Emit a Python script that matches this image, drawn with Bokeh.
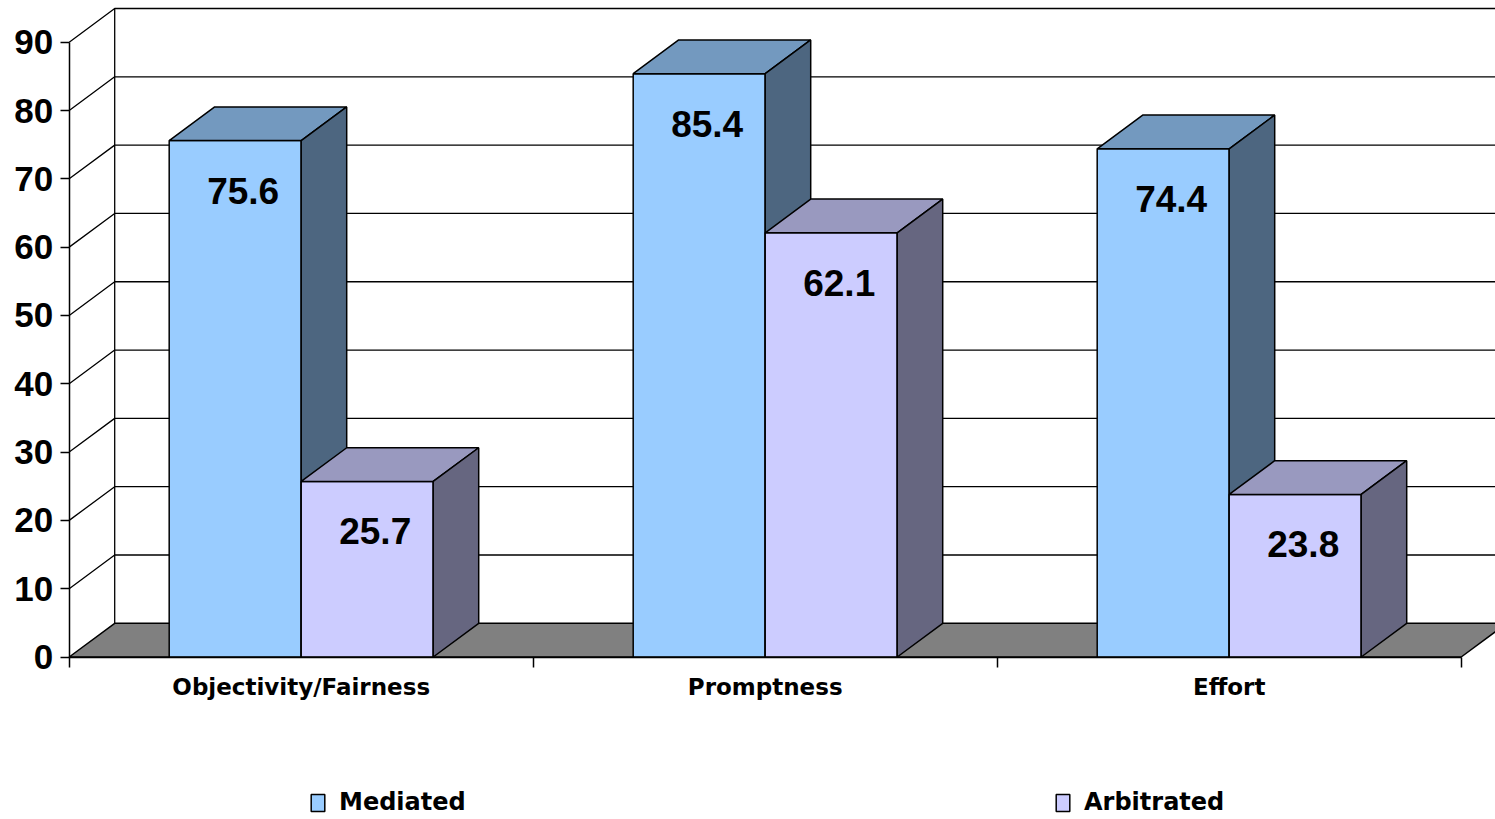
from bokeh.plotting import figure
from bokeh.models import LinearAxis, FixedTicker, Range1d, Legend, LegendItem, ColumnDataSource
from bokeh.core.properties import value
from bokeh.embed import file_html
from bokeh.resources import INLINE

# ---- data -------------------------------------------------------------
categories = ["Objectivity/Fairness", "Promptness", "Effort"]
series_names = ["Mediated", "Arbitrated"]
mediated = [75.6, 85.4, 74.4]
arbitrated = [25.7, 62.1, 23.8]
y_ticks = [0, 10, 20, 30, 40, 50, 60, 70, 80, 90]

# ---- layout -------------------------------------------------------------
W, H = 1495, 819
X0_PX, CAT_PX = 68.7, 464.0      # left edge of the category axis, px per category
Y0_PX, UNIT_PX = 656.5, 6.831    # baseline of the value axis, px per value unit
DEPTH_X = 45.5 / CAT_PX          # oblique depth offset in data units
DEPTH_Y = 33.7 / UNIT_PX
BAR_W = 0.2845                   # bar width as a fraction of a category

colors = {
    "Mediated": dict(front="#99CCFF", top="#7399BF", side="#4D6680"),
    "Arbitrated": dict(front="#CCCCFF", top="#9999BF", side="#666680"),
}

p = figure(
    width=W, height=H,
    x_range=Range1d(-X0_PX / CAT_PX, (W - X0_PX) / CAT_PX),
    y_range=Range1d(-(H - Y0_PX) / UNIT_PX, Y0_PX / UNIT_PX),
    x_axis_type=None, y_axis_type=None,
    toolbar_location=None, output_backend="svg",
    min_border=0, outline_line_color=None,
    background_fill_color="white", border_fill_color="white",
)
p.xgrid.visible = False
p.ygrid.visible = False

n = len(categories)
y_top = max(y_ticks)

# back wall gridlines and the receding lines on the side wall
grid_xs, grid_ys = [], []
for t in y_ticks[1:]:
    grid_xs.append([0, DEPTH_X, n + 2 * DEPTH_X])
    grid_ys.append([t, t + DEPTH_Y, t + DEPTH_Y])
grid_xs.append([DEPTH_X, DEPTH_X])
grid_ys.append([DEPTH_Y, y_top + DEPTH_Y])
p.multi_line(grid_xs, grid_ys, line_color="black", line_width=1.3)

# floor
p.patch([0, n, n + DEPTH_X, DEPTH_X], [0, 0, DEPTH_Y, DEPTH_Y],
        fill_color="#808080", line_color="black", line_width=1.5)


def bar_geometry(values, slot):
    left, right, tops = [], [], []
    top_xs, top_ys, side_xs, side_ys = [], [], [], []
    for i, v in enumerate(values):
        c = i + 0.5
        x0 = c - BAR_W + slot * BAR_W
        x1 = x0 + BAR_W
        left.append(x0)
        right.append(x1)
        tops.append(v)
        top_xs.append([x0, x1, x1 + DEPTH_X, x0 + DEPTH_X])
        top_ys.append([v, v, v + DEPTH_Y, v + DEPTH_Y])
        side_xs.append([x1, x1 + DEPTH_X, x1 + DEPTH_X, x1])
        side_ys.append([0, DEPTH_Y, v + DEPTH_Y, v])
    return left, right, tops, top_xs, top_ys, side_xs, side_ys


front_renderers = {}
for slot, (name, vals) in enumerate(zip(series_names, [mediated, arbitrated])):
    left, right, tops, txs, tys, sxs, sys_ = bar_geometry(vals, slot)
    col = colors[name]
    front_renderers[name] = p.quad(left=left, right=right, bottom=0, top=tops,
                                   fill_color=col["front"], line_color="black", line_width=1.5)
    p.patches(txs, tys, fill_color=col["top"], line_color="black", line_width=1.5)
    p.patches(sxs, sys_, fill_color=col["side"], line_color="black", line_width=1.5)

    label_src = ColumnDataSource(dict(
        x=[(a + b) / 2 for a, b in zip(left, right)],
        y=vals,
        text=[f"{v:.1f}" for v in vals],
    ))
    p.text("x", "y", text="text", source=label_src,
           x_offset=8, y_offset=50,
           text_align="center", text_baseline="middle",
           text_font=value("Liberation Sans"), text_font_style="bold",
           text_font_size="37px", text_color="black")

# value axis on the front plane
yaxis = LinearAxis(
    fixed_location=0, bounds=(0, y_top),
    ticker=FixedTicker(ticks=y_ticks, minor_ticks=[]),
    axis_line_color="black", axis_line_width=1.5,
    major_tick_line_color="black", major_tick_line_width=1.5,
    major_tick_out=9, major_tick_in=0,
    minor_tick_line_color=None,
    major_label_standoff=7,
    major_label_text_font="Liberation Sans", major_label_text_font_style="bold",
    major_label_text_font_size="35px", major_label_text_color="black",
)
p.add_layout(yaxis, "left")

# category axis: ticks at the category boundaries, labels at the centres
centres = [i + 0.5 for i in range(n)]
xaxis = LinearAxis(
    fixed_location=0, bounds=(0, n),
    ticker=FixedTicker(ticks=centres, minor_ticks=list(range(n + 1))),
    major_label_overrides={c: cat for c, cat in zip(centres, categories)},
    axis_line_color="black", axis_line_width=1.5,
    major_tick_line_color=None, major_tick_out=0, major_tick_in=0,
    minor_tick_line_color="black", minor_tick_line_width=1.5,
    minor_tick_out=10, minor_tick_in=0,
    major_label_standoff=7,
    major_label_text_font="DejaVu Sans", major_label_text_font_style="bold",
    major_label_text_font_size="23px", major_label_text_color="black",
)
p.add_layout(xaxis, "below")

# legend entries, one box per series
legend_x = {"Mediated": 309, "Arbitrated": 1054}
for name in series_names:
    leg = Legend(
        items=[LegendItem(label=name, renderers=[front_renderers[name]])],
        location=(legend_x[name], 3), orientation="horizontal",
        glyph_width=17, glyph_height=21, label_standoff=13,
        padding=0, margin=0, spacing=0,
        border_line_color=None, background_fill_alpha=0,
        label_text_font="DejaVu Sans", label_text_font_style="bold",
        label_text_font_size="24px", label_text_color="black",
    )
    p.add_layout(leg, "center")

open("out.html", "w").write(file_html(p, INLINE))
